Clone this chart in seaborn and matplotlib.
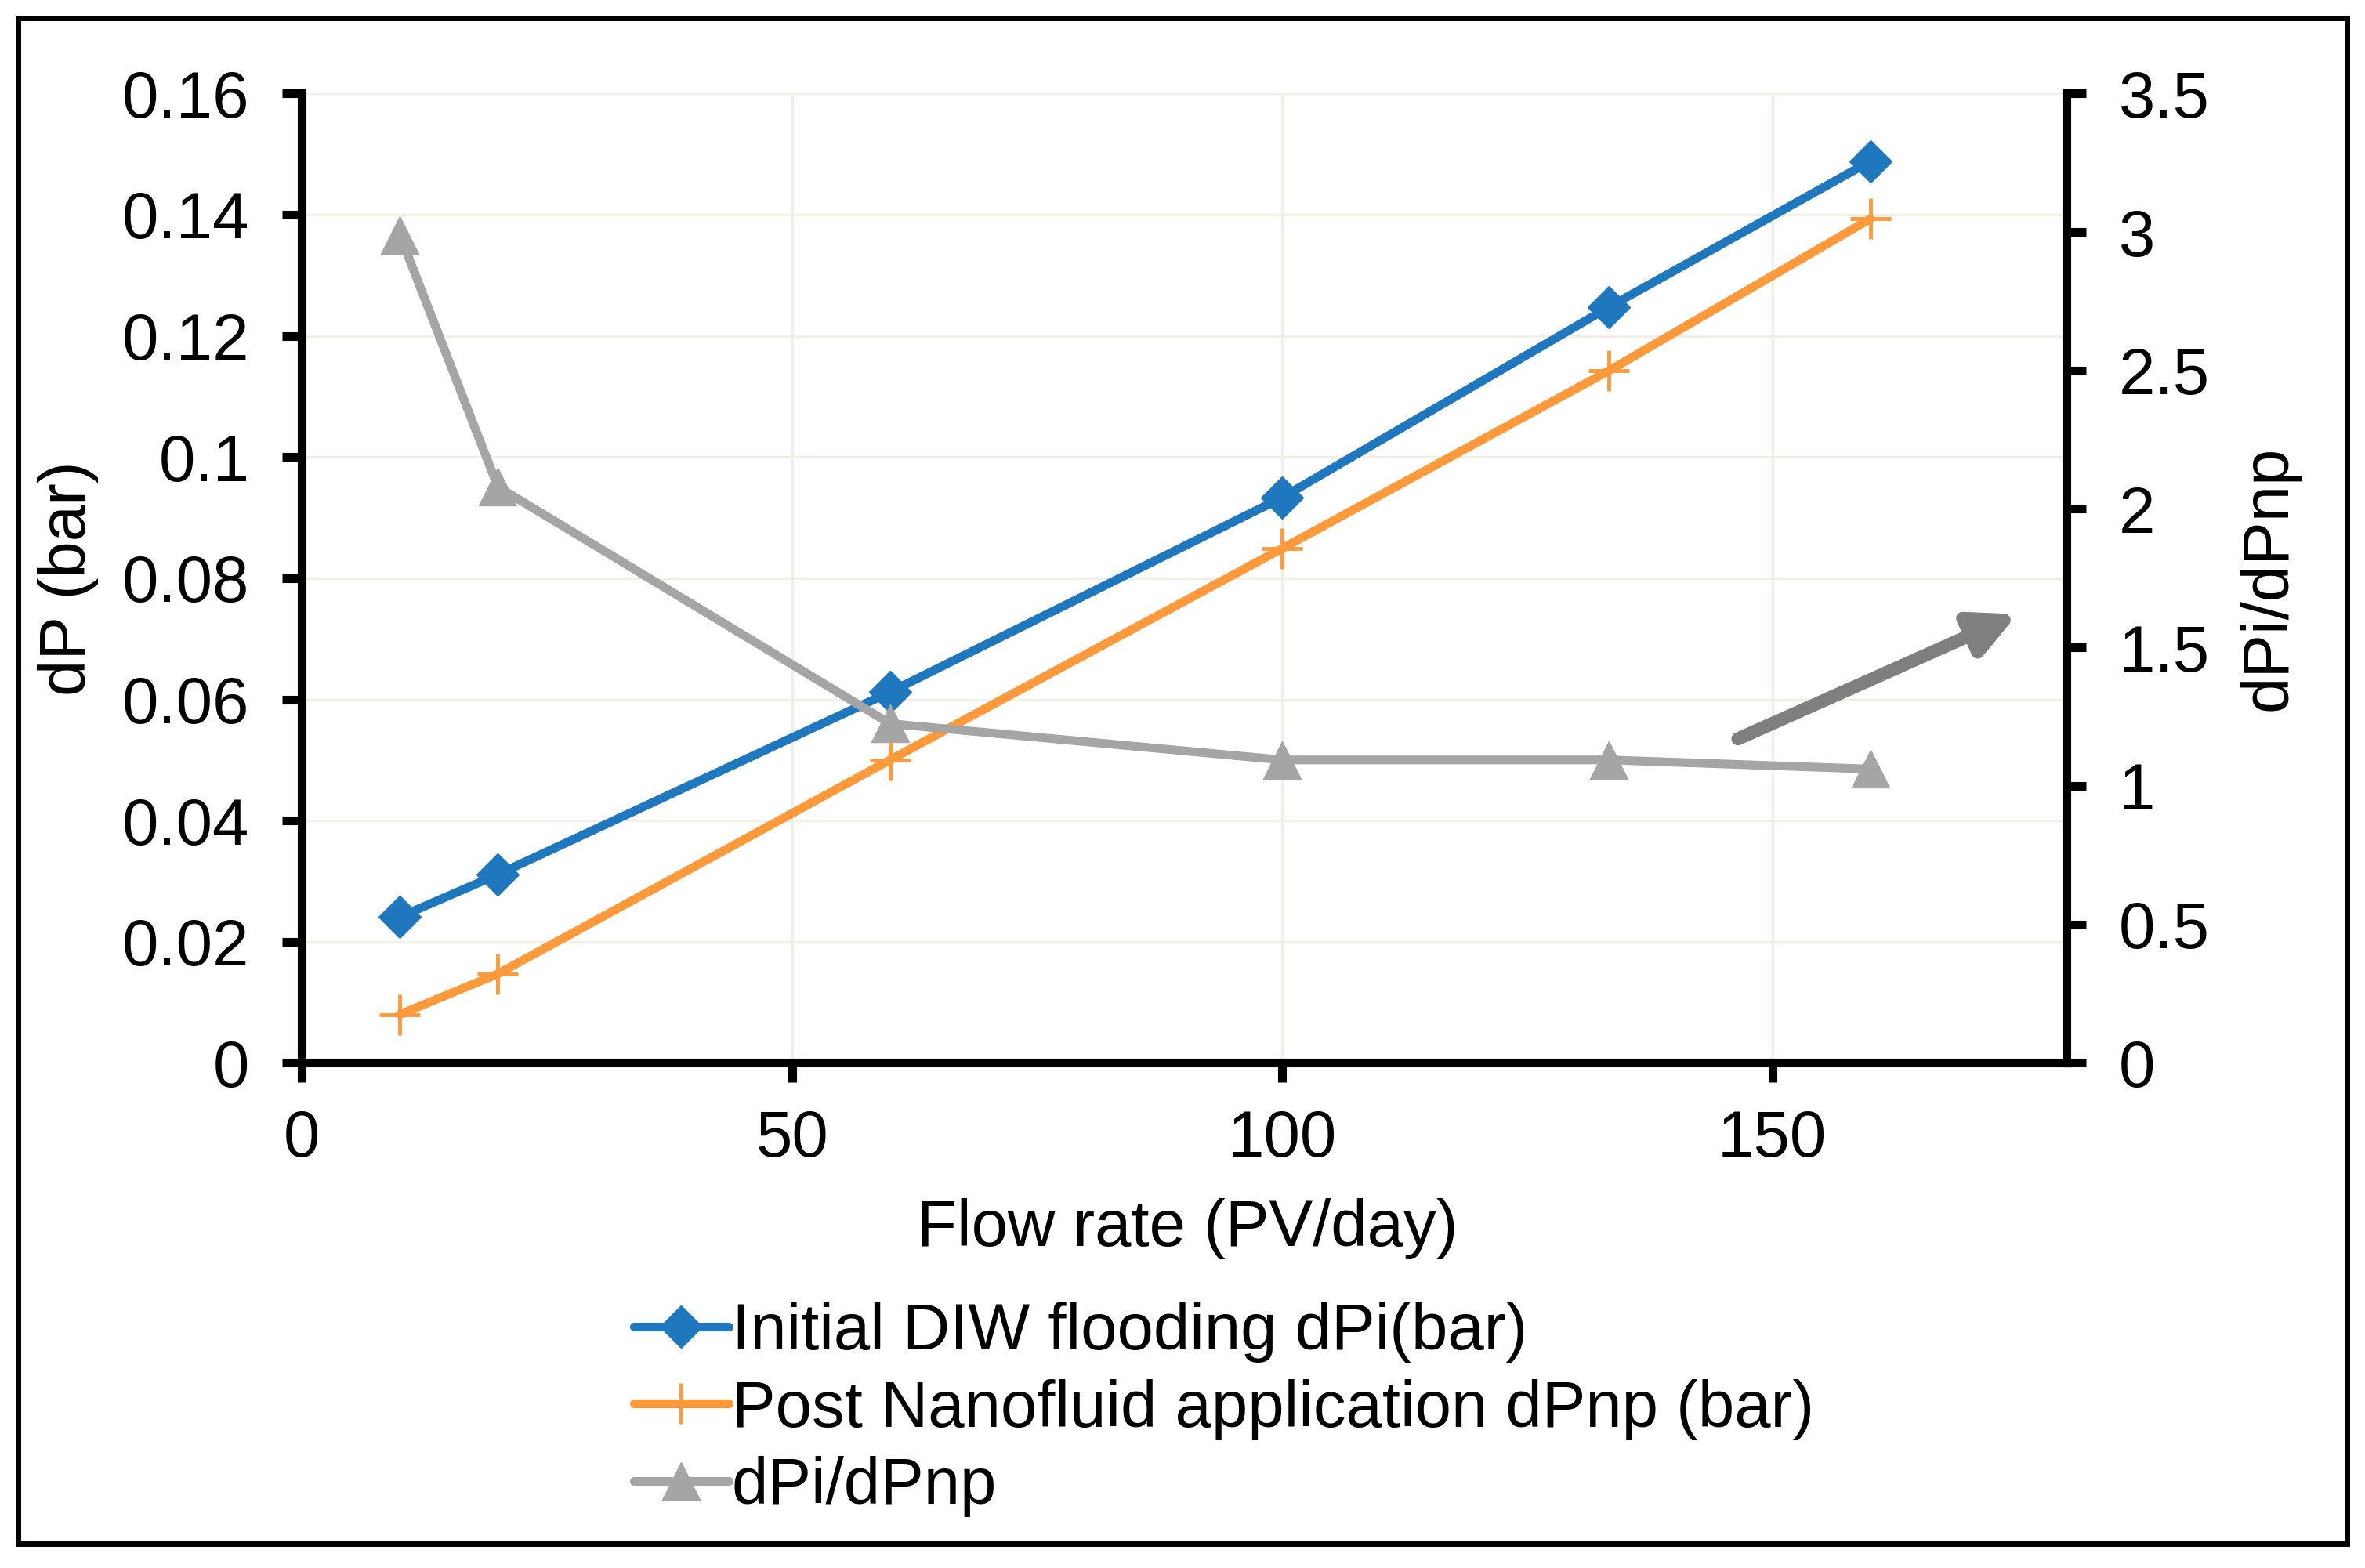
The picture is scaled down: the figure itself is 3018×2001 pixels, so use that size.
import seaborn as sns
import matplotlib.pyplot as plt
from matplotlib.patches import Rectangle
from matplotlib.ticker import FuncFormatter, MultipleLocator

# Data
flow_rate = [10, 20, 60, 100, 133.3, 160]
dp_initial = [0.0241, 0.0311, 0.0612, 0.0933, 0.1247, 0.1488]
dp_nano = [0.0080, 0.0147, 0.0500, 0.0849, 0.1142, 0.1393]
dp_ratio = [2.99, 2.08, 1.225, 1.094, 1.094, 1.061]

labels = ['Initial DIW flooding dPi(bar)',
          'Post Nanofluid application dPnp (bar)',
          'dPi/dPnp']

# trend arrow on the ratio axis (flow rate, ratio)
arrow_start = (146.5, 1.17)
arrow_end = (175, 1.62)

sns.set_style('white')
plt.rcParams['font.family'] = ['Liberation Sans', 'DejaVu Sans']
plt.rcParams.update({'text.color': 'black', 'axes.labelcolor': 'black',
                     'xtick.color': 'black', 'ytick.color': 'black'})

blue = '#1F78BE'
orange = '#FF9A3C'
gray = '#A5A5A5'
fs = 60

fig = plt.figure(figsize=(30.18, 20.01), dpi=100)
ax = fig.add_axes([0.1276, 0.3221, 0.7461, 0.6183])
ax2 = ax.twinx()

sns.lineplot(x=flow_rate, y=dp_initial, ax=ax, color=blue, lw=8,
             marker='D', markersize=28, mec=blue, mew=1, label=labels[0])
sns.lineplot(x=flow_rate, y=dp_nano, ax=ax, color=orange, lw=8,
             marker='+', markersize=38, mec=orange, mew=3.5, label=labels[1])
sns.lineplot(x=flow_rate, y=dp_ratio, ax=ax2, color=gray, lw=8,
             marker='^', markersize=34, mec=gray, mew=1, label=labels[2])

ax2.annotate('', xy=arrow_end, xytext=arrow_start,
             arrowprops=dict(arrowstyle='-|>', color='#7F7F7F', lw=12,
                             mutation_scale=85, shrinkA=0, shrinkB=0))

ax.set_xlim(0, 180)
ax.set_ylim(0, 0.16)
ax2.set_ylim(0, 3.5)
ax.xaxis.set_major_locator(MultipleLocator(50))
ax.yaxis.set_major_locator(MultipleLocator(0.02))
ax2.yaxis.set_major_locator(MultipleLocator(0.5))
fmt = FuncFormatter(lambda v, p: f'{v:g}')
ax.xaxis.set_major_formatter(fmt)
ax.yaxis.set_major_formatter(fmt)
ax2.yaxis.set_major_formatter(fmt)

ax.grid(True, color='#F2EFE6', lw=2.5)
ax2.grid(False)

for a in (ax, ax2):
    a.spines['top'].set_visible(False)
    for s in a.spines.values():
        s.set_linewidth(8)
        s.set_color('black')
ax.spines['right'].set_visible(False)
ax2.spines['left'].set_visible(False)
ax2.spines['bottom'].set_visible(False)

ax.tick_params(axis='x', direction='out', length=18, width=8, labelsize=fs, pad=24, bottom=True)
ax.tick_params(axis='y', direction='out', length=18, width=8, labelsize=fs, pad=30, left=True)
ax2.tick_params(axis='y', direction='out', length=18, width=8, labelsize=fs, pad=30, right=True)

ax.set_xlabel('Flow rate (PV/day)', fontsize=fs, va='center')
ax.set_ylabel('dP (bar)', fontsize=fs, va='center')
ax2.set_ylabel('dPi/dPnp', fontsize=fs, rotation=90, va='center')
ax.xaxis.set_label_coords(0.502, -0.171)
ax.yaxis.set_label_coords(-0.1325, 0.5)
ax2.yaxis.set_label_coords(1.115, 0.5)

h1, l1 = ax.get_legend_handles_labels()
h2, l2 = ax2.get_legend_handles_labels()
ax.get_legend().remove()
ax2.get_legend().remove()
fig.legend(h1 + h2, l1 + l2, loc='upper left', bbox_to_anchor=(0.268, 0.170),
           frameon=False, fontsize=fs, borderpad=0, borderaxespad=0,
           handlelength=1.45, handletextpad=0.05, labelspacing=0.25)

fig.add_artist(Rectangle((0.0077, 0.0154), 0.9846, 0.9731, transform=fig.transFigure,
                         fill=False, lw=5, ec='black'))

fig.savefig('out.png', dpi=100, facecolor='white')
